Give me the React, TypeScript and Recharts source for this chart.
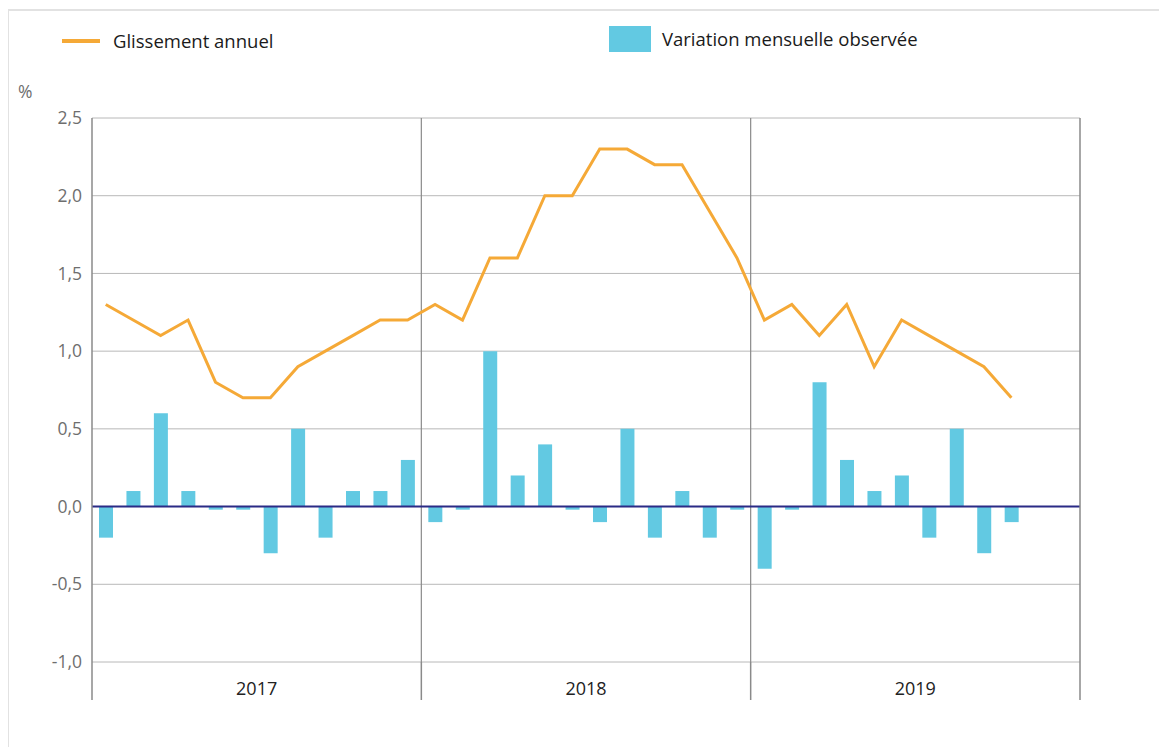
import {
  ComposedChart,
  Bar,
  Line,
  XAxis,
  YAxis,
  CartesianGrid,
  ReferenceLine,
} from 'recharts';

// Mois de janvier 2017 à décembre 2019
const months = [
  'janv. 2017', 'févr. 2017', 'mars 2017', 'avr. 2017', 'mai 2017', 'juin 2017',
  'juil. 2017', 'août 2017', 'sept. 2017', 'oct. 2017', 'nov. 2017', 'déc. 2017',
  'janv. 2018', 'févr. 2018', 'mars 2018', 'avr. 2018', 'mai 2018', 'juin 2018',
  'juil. 2018', 'août 2018', 'sept. 2018', 'oct. 2018', 'nov. 2018', 'déc. 2018',
  'janv. 2019', 'févr. 2019', 'mars 2019', 'avr. 2019', 'mai 2019', 'juin 2019',
  'juil. 2019', 'août 2019', 'sept. 2019', 'oct. 2019', 'nov. 2019', 'déc. 2019',
];

// Variation mensuelle observée (%), janv. 2017 -> oct. 2019
const variation = [
  -0.2, 0.1, 0.6, 0.1, -0.02, -0.02, -0.3, 0.5, -0.2, 0.1, 0.1, 0.3,
  -0.1, -0.02, 1.0, 0.2, 0.4, -0.02, -0.1, 0.5, -0.2, 0.1, -0.2, -0.02,
  -0.4, -0.02, 0.8, 0.3, 0.1, 0.2, -0.2, 0.5, -0.3, -0.1,
];

// Glissement annuel (%)
const glissement = [
  1.3, 1.2, 1.1, 1.2, 0.8, 0.7, 0.7, 0.9, 1.0, 1.1, 1.2, 1.2,
  1.3, 1.2, 1.6, 1.6, 2.0, 2.0, 2.3, 2.3, 2.2, 2.2, 1.9, 1.6,
  1.2, 1.3, 1.1, 1.3, 0.9, 1.2, 1.1, 1.0, 0.9, 0.7,
];

const years = ['2017', '2018', '2019'];
const yTicks = [-1, -0.5, 0, 0.5, 1, 1.5, 2, 2.5];

const data = months.map((m, i) => ({
  month: m,
  variation: i < variation.length ? variation[i] : null,
  glissement: i < glissement.length ? glissement[i] : null,
}));

const fmt = (v: number) => v.toFixed(1).replace('.', ',');

const AXIS = '#8a8a8a';
const TICK_COLOR = '#6e6e6e';

// year separators and labels drawn from the month ticks
function YearTick(props: any) {
  const { x, y, payload, index } = props;
  const half = payload.offset || 0;
  const pos = index % 12;
  return (
    <g>
      {pos === 0 && <line x1={x - half} x2={x - half} y1={y} y2={y + 38} stroke={AXIS} strokeWidth={1.5} />}
      {index === months.length - 1 && (
        <line x1={x + half} x2={x + half} y1={y} y2={y + 38} stroke={AXIS} strokeWidth={1.5} />
      )}
      {pos === 6 && (
        <text x={x - half} y={y + 33} textAnchor="middle" fontSize={18} fill="#222">
          {years[Math.floor(index / 12)]}
        </text>
      )}
    </g>
  );
}

export default function App() {
  return (
    <div style={{ position: 'relative', width: 1159, height: 739, fontFamily: '"Open Sans", sans-serif' }}>
      <div
        style={{
          position: 'absolute',
          left: -1,
          top: 1,
          width: 1160,
          height: 738,
          boxSizing: 'border-box',
          borderTop: '2px solid #e2e2e2',
          borderLeft: '2px solid #e2e2e2',
          pointerEvents: 'none',
        }}
      />

      {/* Légende */}
      <div style={{ position: 'absolute', left: 54, top: 31, width: 38, height: 4, background: '#f5a937' }} />
      <div style={{ position: 'absolute', left: 105, top: 21, fontSize: 18.5, lineHeight: '24px', color: '#1a1a1a' }}>
        Glissement annuel
      </div>
      <div style={{ position: 'absolute', left: 601, top: 18, width: 42, height: 26, background: '#62c9e2' }} />
      <div style={{ position: 'absolute', left: 654, top: 19, fontSize: 18.5, lineHeight: '24px', color: '#1a1a1a' }}>
        Variation mensuelle observée
      </div>
      <div style={{ position: 'absolute', left: 10, top: 72, fontSize: 17.5, lineHeight: '22px', color: TICK_COLOR }}>%</div>

      <ComposedChart
        width={1159}
        height={739}
        data={data}
        margin={{ top: 110, right: 27, bottom: 45, left: 0 }}
        barCategoryGap={0}
      >
        <CartesianGrid yAxisId="left" vertical={false} stroke="#b8b8b8" />
        <XAxis
          dataKey="month"
          axisLine={false}
          tickLine={false}
          tickSize={0}
          tickMargin={0}
          height={40}
          interval={0}
          tick={<YearTick />}
        />
        <YAxis
          yAxisId="left"
          width={84}
          domain={[-1, 2.5]}
          ticks={yTicks}
          tickFormatter={fmt}
          axisLine={{ stroke: AXIS, strokeWidth: 1.5 }}
          tickLine={false}
          tickMargin={4}
          tick={{ fill: TICK_COLOR, fontSize: 17.5 }}
        />
        <YAxis
          yAxisId="right"
          orientation="right"
          width={60}
          domain={[-1, 2.5]}
          ticks={yTicks}
          tickFormatter={fmt}
          axisLine={{ stroke: AXIS, strokeWidth: 1.5 }}
          tickLine={false}
          tickMargin={4}
          tick={{ fill: TICK_COLOR, fontSize: 17.5, textAnchor: 'start' }}
        />
        <ReferenceLine yAxisId="left" x={months[12]} position="start" stroke={AXIS} strokeWidth={1.2} />
        <ReferenceLine yAxisId="left" x={months[24]} position="start" stroke={AXIS} strokeWidth={1.2} />
        <Bar
          yAxisId="left"
          dataKey="variation"
          fill="#62c9e2"
          barSize={14}
          isAnimationActive={false}
        />
        <ReferenceLine yAxisId="left" y={0} stroke="#2b2b86" strokeWidth={2} />
        <Line
          yAxisId="left"
          dataKey="glissement"
          stroke="#f5a937"
          strokeWidth={3}
          dot={false}
          activeDot={false}
          isAnimationActive={false}
        />
      </ComposedChart>
    </div>
  );
}
